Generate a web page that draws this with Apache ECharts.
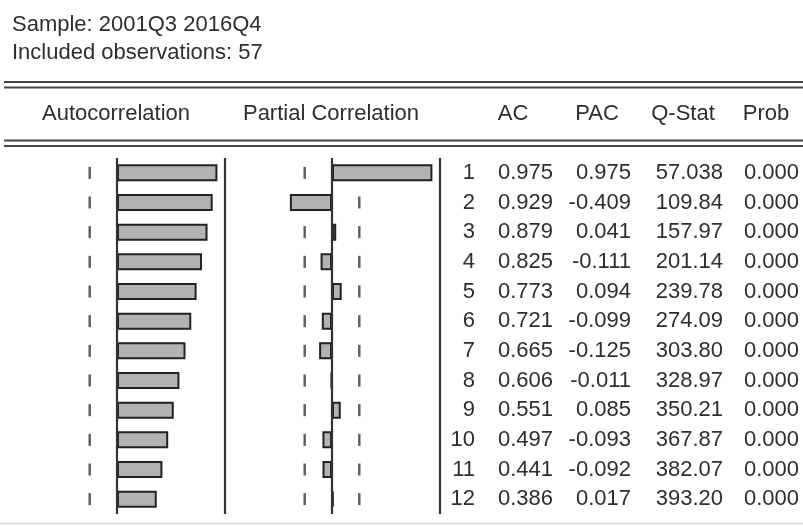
<!DOCTYPE html>
<html>
<head>
<meta charset="utf-8">
<script src="https://cdn.jsdelivr.net/npm/echarts@6/dist/echarts.min.js"></script>
<style>
html,body{margin:0;padding:0;background:#fff;}
#chart{width:803px;height:526px;}
</style>
</head>
<body>
<div id="chart"></div>
<script>
// ---- data ----
const sampleText = 'Sample: 2001Q3 2016Q4';
const obsText = 'Included observations: 57';
const nObs = 57;
const lags = ['1','2','3','4','5','6','7','8','9','10','11','12'];
const acValues = [0.975, 0.929, 0.879, 0.825, 0.773, 0.721, 0.665, 0.606, 0.551, 0.497, 0.441, 0.386];
const pacValues = [0.975, -0.409, 0.041, -0.111, 0.094, -0.099, -0.125, -0.011, 0.085, -0.093, -0.092, 0.017];
const qStatValues = [57.038, 109.84, 157.97, 201.14, 239.78, 274.09, 303.80, 328.97, 350.21, 367.87, 382.07, 393.20];
const probValues = [0.000, 0.000, 0.000, 0.000, 0.000, 0.000, 0.000, 0.000, 0.000, 0.000, 0.000, 0.000];
const panelTitles = ['Autocorrelation', 'Partial Correlation'];
const columnTitles = ['AC', 'PAC', 'Q-Stat', 'Prob'];

// ---- layout ----
const FONT = '"Liberation Sans", Arial, sans-serif';
const FS = 22;
const TXT = '#2e2e2e';
const LINE = '#444444';
const gridTop = 158, gridBottom = 12;
const bound = 2 / Math.sqrt(nObs);
const xr = 1.05;

const chart = echarts.init(document.getElementById('chart'), null, {renderer: 'canvas'});

function hiddenX(idx) {
  return {type: 'value', gridIndex: idx, min: -xr, max: xr, show: false, splitLine: {show: false}};
}
function hiddenY(idx) {
  return {type: 'category', gridIndex: idx, data: lags, inverse: true, show: false};
}
function barSeries(idx, values) {
  return {
    type: 'bar', xAxisIndex: idx, yAxisIndex: idx, data: values, barWidth: 17, z: 3,
    itemStyle: {color: '#b3b3b3', borderColor: '#222222', borderWidth: 2},
    silent: true, animation: false,
    markLine: {
      silent: true, symbol: 'none', animation: false, label: {show: false},
      lineStyle: {color: '#333333', width: 2.2, type: 'solid'},
      data: [{xAxis: 0}, {xAxis: xr}]
    }
  };
}
function boundSeries(idx) {
  const d = [];
  lags.forEach(l => { d.push([-bound, l]); d.push([bound, l]); });
  return {
    type: 'scatter', xAxisIndex: idx, yAxisIndex: idx, data: d, z: 1,
    symbol: 'rect', symbolSize: [2.5, 12], itemStyle: {color: '#3a3a3a'},
    silent: true, animation: false
  };
}

const colRight = [475, 553, 631, 723, 799];
function fmtRow(i) {
  return [lags[i], acValues[i].toFixed(3), pacValues[i].toFixed(3),
          qStatValues[i].toPrecision(5), probValues[i].toFixed(3)];
}

const tableSeries = {
  type: 'custom', xAxisIndex: 2, yAxisIndex: 2, silent: true, animation: false,
  data: lags.map((l, i) => [0, i]),
  renderItem: function (params, api) {
    const i = api.value(1);
    const y = api.coord([0, i])[1];
    const row = fmtRow(i);
    return {
      type: 'group',
      children: row.map((t, k) => ({
        type: 'text',
        style: {text: t, x: colRight[k], y: y, align: 'right', verticalAlign: 'middle',
                fontSize: FS, fontFamily: FONT, fill: TXT}
      }))
    };
  }
};

function hline(y, x1, x2, color, w) {
  return {type: 'line', silent: true, shape: {x1: x1, y1: y, x2: x2, y2: y},
          style: {stroke: color, lineWidth: w}};
}
function txt(t, x, y, align) {
  return {type: 'text', silent: true,
          style: {text: t, x: x, y: y, align: align, verticalAlign: 'middle',
                  fontSize: FS, fontFamily: FONT, fill: TXT}};
}
const colTitleCenters = [513, 597, 683, 766];

const option = {
  backgroundColor: '#ffffff',
  animation: false,
  grid: [
    {left: 117 - 103 * xr, width: 206 * xr, top: gridTop, bottom: gridBottom},
    {left: 332 - 103 * xr, width: 206 * xr, top: gridTop, bottom: gridBottom},
    {left: 440, right: 0, top: gridTop, bottom: gridBottom}
  ],
  xAxis: [hiddenX(0), hiddenX(1), {type: 'value', gridIndex: 2, min: 0, max: 1, show: false}],
  yAxis: [hiddenY(0), hiddenY(1), hiddenY(2)],
  series: [boundSeries(0), barSeries(0, acValues), boundSeries(1), barSeries(1, pacValues), tableSeries],
  graphic: [
    txt(sampleText, 12, 25, 'left'),
    txt(obsText, 12, 53, 'left'),
    hline(82, 4, 803, LINE, 2.2),
    hline(87.5, 4, 803, LINE, 2.2),
    txt(panelTitles[0], 116, 114, 'center'),
    txt(panelTitles[1], 331, 114, 'center'),
    ...columnTitles.map((t, k) => txt(t, colTitleCenters[k], 114, 'center')),
    hline(140.5, 4, 803, LINE, 2.2),
    hline(146, 4, 803, LINE, 2.2),
    hline(523.5, 0, 803, '#d9d9d9', 2)
  ]
};
chart.setOption(option);
</script>
</body>
</html>
